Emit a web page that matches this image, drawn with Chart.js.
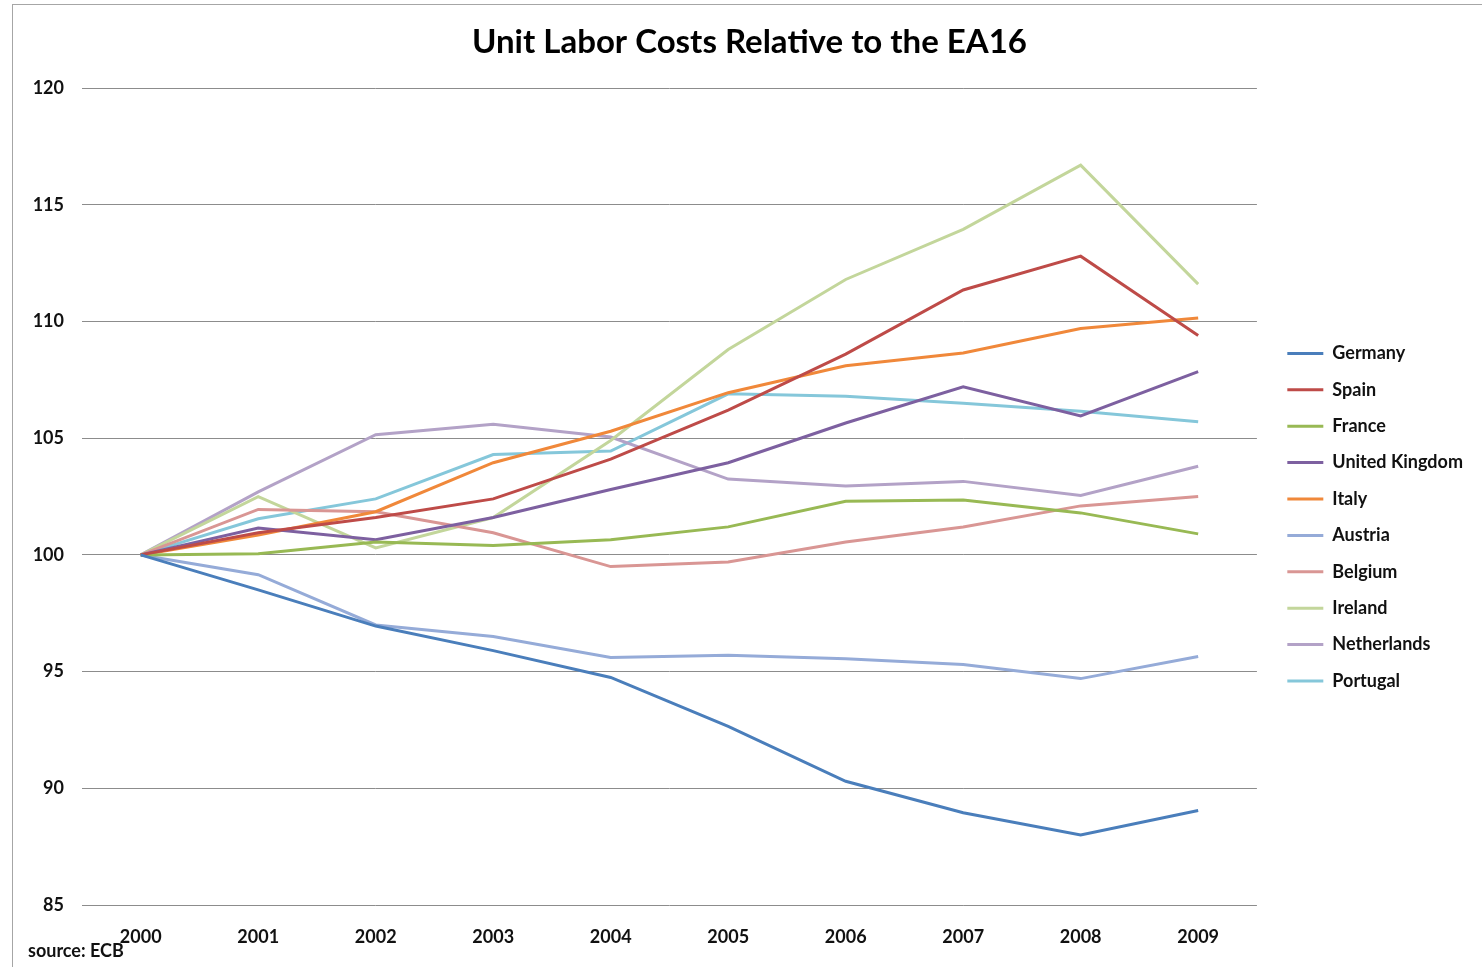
<!DOCTYPE html>
<html>
<head>
<meta charset="utf-8">
<script src="https://cdn.jsdelivr.net/npm/chart.js@4.4.1/dist/chart.umd.min.js"></script>
<style>
  html, body { margin: 0; padding: 0; background: #fff; overflow: hidden; }
  #wrap { position: relative; width: 1482px; height: 967px; }
  #frame { position: absolute; left: 12px; top: 4px; width: 1500px; height: 1000px; border: 1px solid #a6a6a6; box-sizing: border-box; }
  #source { position: absolute; left: 28px; top: 939px; font: bold 18px Lato, sans-serif; color: #111; }
</style>
</head>
<body>
<div id="wrap">
  <div id="frame"></div>
  <canvas id="line"></canvas>
  <div id="source">source: ECB</div>
</div>
<script>
const years = ['2000', '2001', '2002', '2003', '2004', '2005', '2006', '2007', '2008', '2009'];

const germany     = [100, 98.5, 96.95, 95.9, 94.75, 92.65, 90.3, 88.95, 88.0, 89.05];
const spain       = [100, 100.95, 101.6, 102.4, 104.1, 106.2, 108.6, 111.35, 112.8, 109.4];
const france      = [100, 100.05, 100.55, 100.4, 100.65, 101.2, 102.3, 102.35, 101.8, 100.9];
const uk          = [100, 101.15, 100.65, 101.6, 102.8, 103.95, 105.65, 107.2, 105.95, 107.85];
const italy       = [100, 100.85, 101.85, 103.95, 105.3, 106.95, 108.1, 108.65, 109.7, 110.15];
const austria     = [100, 99.15, 97.0, 96.5, 95.6, 95.7, 95.55, 95.3, 94.7, 95.65];
const belgium     = [100, 101.95, 101.85, 100.95, 99.5, 99.7, 100.55, 101.2, 102.1, 102.5];
const ireland     = [100, 102.5, 100.3, 101.6, 104.9, 108.8, 111.8, 113.95, 116.7, 111.6];
const netherlands = [100, 102.7, 105.15, 105.6, 105.05, 103.25, 102.95, 103.15, 102.55, 103.8];
const portugal    = [100, 101.55, 102.4, 104.3, 104.45, 106.9, 106.8, 106.5, 106.15, 105.7];

const yTicks = { min: 85, max: 120, step: 5 };

const serie = (label, data, color) => ({
  label: label,
  data: data,
  borderColor: color,
  backgroundColor: color,
  borderWidth: 3,
  pointRadius: 0,
  tension: 0
});

// mueve la leyenda y el título, como en el original de Excel
const legendShift = {
  id: 'legendShift',
  afterLayout(chart) {
    const lg = chart.legend;
    lg.left += 12; lg.right += 12;
    lg.top += 326; lg.bottom += 326;
    chart.titleBlock.left += 24;
  }
};

const ctx = document.getElementById('line');
const font = 'Lato, "Open Sans", sans-serif';

const line = new Chart(ctx, {
  type: 'line',
  data: {
    labels: years,
    datasets: [
      serie('Germany', germany, '#4a7ebb'),
      serie('Spain', spain, '#be4b48'),
      serie('France', france, '#98b954'),
      serie('United Kingdom', uk, '#7d60a0'),
      serie('Italy', italy, '#f0883a'),
      serie('Austria', austria, '#95abd8'),
      serie('Belgium', belgium, '#d99694'),
      serie('Ireland', ireland, '#c3d69b'),
      serie('Netherlands', netherlands, '#b3a2c7'),
      serie('Portugal', portugal, '#85c7da')
    ]
  },
  plugins: [legendShift],
  options: {
    responsive: true,
    maintainAspectRatio: false,
    animation: false,
    layout: { padding: { left: 14, right: 21, top: 0, bottom: 0 } },
    plugins: {
      title: {
        display: true,
        text: 'Unit Labor Costs Relative to the EA16',
        color: '#000',
        font: { family: font, size: 33, weight: 'bold' },
        padding: { top: 23, bottom: 25.5 }
      },
      legend: {
        position: 'right',
        align: 'start',
        labels: {
          color: '#111',
          font: { family: font, size: 18, weight: 'bold' },
          usePointStyle: true,
          pointStyle: 'line',
          pointStyleWidth: 36,
          padding: 18.4
        }
      },
      tooltip: { enabled: false }
    },
    scales: {
      x: {
        offset: true,
        grid: { display: false },
        border: { display: false },
        ticks: { color: '#111', font: { family: font, size: 18, weight: 'bold' }, padding: 13, maxRotation: 0 },
        afterFit(scale) { scale.height = 62; }
      },
      y: {
        min: yTicks.min,
        max: yTicks.max,
        grid: { color: '#8c8c8c', lineWidth: 1, drawTicks: false },
        border: { display: false },
        ticks: { stepSize: yTicks.step, color: '#111', font: { family: font, size: 18, weight: 'bold' }, padding: 18 },
        afterFit(scale) { scale.width = 68; }
      }
    }
  }
});
</script>
</body>
</html>
